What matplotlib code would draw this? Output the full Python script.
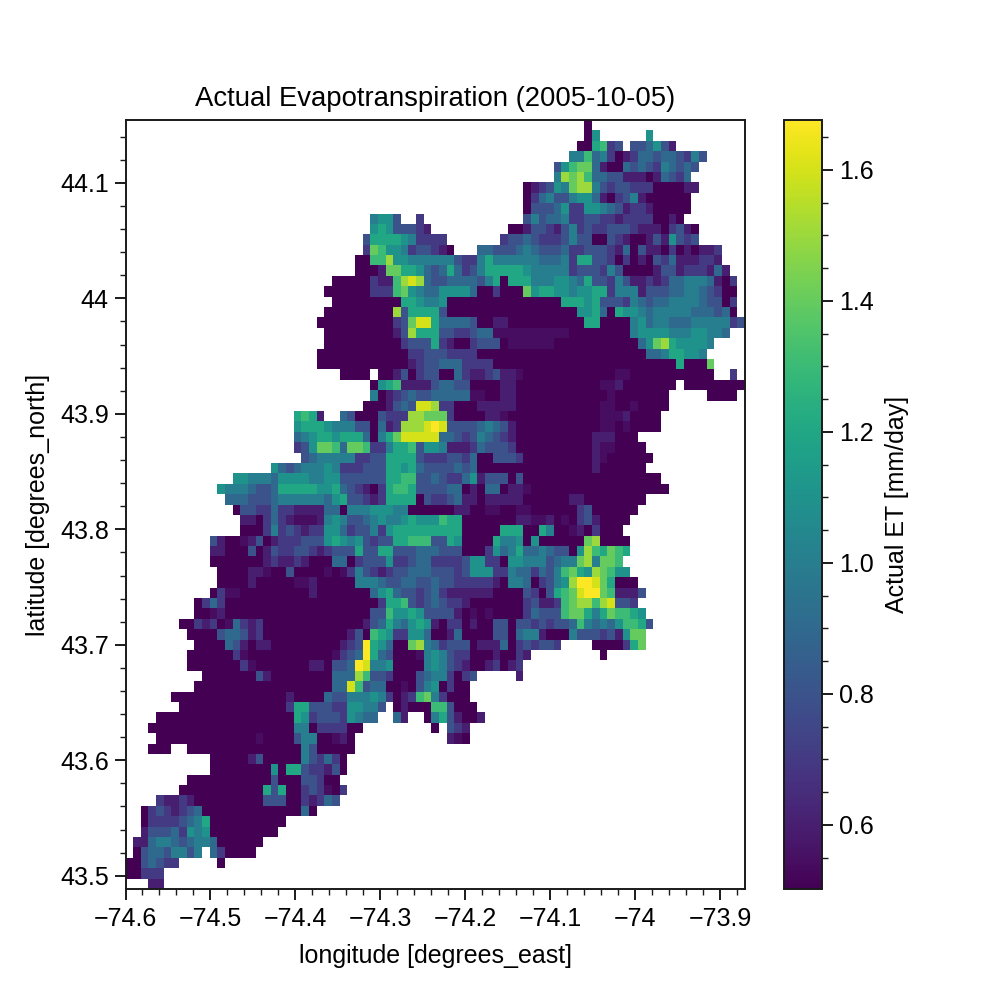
#!/usr/bin/env python3
"""Actual evapotranspiration map for one day, gridded at 0.009 degrees."""
import matplotlib
matplotlib.use('Agg')
import matplotlib.pyplot as plt
import numpy as np

plt.rcParams['font.family'] = ['Liberation Sans', 'DejaVu Sans']
plt.rcParams['axes.linewidth'] = 0.7
plt.rcParams['axes.edgecolor'] = '#1a1a1a'

# ET classes in mm/day, one character per cell; '.' is outside the basin
ET_CLASSES = {'0': 0.50, 'z': 0.54, '1': 0.60, '2': 0.70, '3': 0.80, '4': 0.90, '5': 1.00,
              '6': 1.10, '7': 1.20, '8': 1.30, '9': 1.40, 'a': 1.50, 'b': 1.60, 'c': 1.67}

# first occupied column of each row, north to south
ROW_START = [60, 60, 59, 58, 56, 56, 52, 52, 52, 32,
             32, 31, 31, 30, 30, 27, 26, 27, 26, 25,
             26, 26, 25, 25, 28, 32, 32, 31, 22, 22,
             22, 22, 23, 19, 14, 12, 13, 14, 15, 15,
             11, 11, 11, 12, 12, 11, 9, 9, 7, 8,
             9, 8, 8, 10, 9, 6, 7, 4, 3, 4,
             3, 11, 11, 8, 7, 4, 2, 2, 2, 1,
             1, 0, 0, 3]

ROW_CODES = [
    "0",
    "06......6",
    "007823.334631",
    "558452012443443253",
    "3689941004343254343",
    "5a9a84433111014324",
    "0123659aa53233222000011",
    "0245335664102351000000",
    "0333462266543122100000",
    "5663..2" + "." * 13 + "353445223322122220010",
    "67633321" + "." * 10 + "00" + "13321352322333211102310",
    "37777652222" + "." * 7 + "2334322235" + "3300321001" + "316323",
    "298665233210" + "..." + "44333454333422333" + "214031102010112",
    "0088a" + "66555" + "55532" + "25755" + "55554" + "44527" + "73320" + "20103" + "24111" + "221",
    "00019" + "97764" + "34742" + "35777" + "77655" + "55523" + "33253" + "00001" + "33122" + "2141",
    "00000" + "2118a" + "ba433" + "44443" + "57077" + "75556" + "65473" + "32531" + "12124" + "45554" + "102",
    "000000" + "2228" + "9654" + "4666" + "6400" + "2000" + "9677" + "6656" + "6772" + "5551" + "3334" + "4554" + "3200",
    "0" * 9 + "77655" + "6" + "0" * 15 + "77767" + "33325" + "43445" + "55543" + "302",
    "0" * 9 + "a377773" + "0" * 17 + "66740" + "76654" + "55555" + "44434" + "0",
    "0" * 10 + "239bb7" + "44443" + "00110000000000" + "77" + "0000" + "56455" + "44455" + "55523",
    "0" * 9 + "13a777" + "3322344" + "z" * 10 + "0" * 8 + "5666655566554",
    "0" * 10 + "23337" + "21002333" + "0zzzzzz" + "0" * 11 + "469a766665",
    "0" * 12 + "223332222" + "0" * 22 + "44577665",
    "0" * 12 + "12334442222" + "0" * 24 + "7" + "000" + "9",
    "0000.00130233" + "00421123" + "11z" + "0" * 12 + "zz" + "0" * 11 + ".." + "2",
    "067811113" + "4433" + "0000" + "11" + "0" * 11 + "zz" + "1" + "0" * 7 + "." + "0" * 8,
    "501234334" + "4444" + "zz00" + "11" + "0" * 12 + "z" + "0" * 7 + "." * 5 + "0000",
    "0001343bba" + "22" + "000" + "11111" + "0" * 11 + "zz" + "00" + "z" + "0000",
    "7871..430003222aa99" + "92" + "0000" + "11z" + "0" * 12 + "zzz1" + "0000",
    "67776555330412aaabc" + "b333345431" + "0" * 11 + "zz0z" + "0000",
    "4567767774" + "0579" + "bbbbb" + "4432354321" + "0" * 10 + "111" + "000",
    "2369984998" + "225778366" + "5111243332" + "0" * 10 + "1zz" + "0000",
    "345555522337777322" + "23324003332" + "0" * 9 + "1z" + "0" * 6,
    "643455565" + "222" + "333" + "7767" + "433" + "33434" + "0" * 15 + "1" + "0" * 6,
    "665554" + "66665566" + "333333" + "7788" + "334" + "32246133303" + "0" * 18,
    "65554334" + "77777667" + "432102" + "7887" + "333" + "34401044011z" + "0" * 18,
    "4443334" + "5555554" + "6733212" + "7777032" + "23411011111" + "0" * 6 + "11" + "0" * 8,
    "033224221111440" + "55566655" + "0" * 6 + "11" + "00zz00zz" + "0" * 6 + "23" + "0" * 6,
    "1102421" + "zzz1" + "565334" + "5655" + "67666" + "877" + "0" * 7 + "11zz10z0" + "231" + "0000",
    "00025232122664233526" + "777777" + "777" + "0" * 5 + "777" + "00" + "75" + "00z102" + "000",
    "3100z1301" + "222333" + "67656" + "3233" + "77888" + "3" + "376" + "0000" + "7556" + "06" + "0" * 6 + "9a" + "0000",
    "110003013" + "223321" + "23337" + "3377" + "33344" + "4" + "3330002645744543306a87987",
    "0" * 7 + "12112100044023336223442" + "222366220665553455" + "9a5998",
    "000011z003" + "0000z0z" + "253212" + "33" + "4443" + "33236662254424358976a9866",
    "0000100000zz100000" + "55543344334" + "33222221055402356accb97000",
    "02zz" + "0" * 9 + "1" + "0" * 7 + "467433234" + "2111111" + "0000" + "320" + "3789" + "bcc98" + "1113",
    "0242" + "0" * 20 + "27783234" + "3221" + "0000000" + "23112" + "89aa8ab332",
    "00z1" + "0" * 19 + "338667633" + "3310z0z0000" + "24333" + "89975" + "79887" + "6",
    "00212" + "0z4212" + "0" * 13 + "1347546761" + "0220100330" + "3323233485" + "45468873",
    "0000344312" + "0" * 11 + "130876226640" + "0140000330" + "4551000533" + "3231699",
    "0000431011" + "0" * 9 + "123c764009a54" + "2333011140" + "232332" + "...." + "0000" + "279",
    "0000002z" + "0" * 11 + "z234c743000z56" + "532200010021" + "." * 9 + "0",
    "0" * 7 + "2z" + "0" * 7 + "110" + "334cb556" + "0000" + "565" + "3210012012",
    "0" * 7 + "31" + "0" * 8 + "444a8332" + "00034552023" + "." * 5 + "1",
    "0" * 18 + "44b8344" + "00z0" + "3560200",
    "0" * 15 + "1" + "0000" + "4335556520128952000",
    "0" * 14 + "2773332266553" + "." + "01000" + "88" + "3" + "000",
    "0" * 18 + "76233326544" + ".." + "41" + ".." + "05731001",
    "0" * 19 + "550222200" + "." * 9 + "0" + "." + "321",
    "0" * 13 + "z" + "0000" + "35500z10" + "." * 12 + "1z0",
    "000.." + "0" * 15 + "53" + "00000",
    "000001300000" + "532420",
    "00000000" + "60" + "77" + "322130",
    "0" * 11 + "3000" + "33200",
    "0" * 11 + "737" + "00" + "232z02",
    "21121" + "0" * 9 + "333" + "00" + "21243",
    "02321234" + "0" * 13 + "40",
    "022223457" + "0" * 10,
    "133342656" + "0" * 9,
    "11455434554" + "0" * 6,
    "034435535.420000",
    "0034322" + "....." + "0",
    "00222",
    "11",
]

LON_TICKS = [-74.6, -74.5, -74.4, -74.3, -74.2, -74.1, -74.0, -73.9]
LON_LABELS = ['\u221274.6', '\u221274.5', '\u221274.4', '\u221274.3', '\u221274.2', '\u221274.1', '\u221274', '\u221273.9']
LAT_TICKS = [43.5, 43.6, 43.7, 43.8, 43.9, 44.0, 44.1]
LAT_LABELS = ['43.5', '43.6', '43.7', '43.8', '43.9', '44', '44.1']
CBAR_TICKS = [0.6, 0.8, 1.0, 1.2, 1.4, 1.6]

N_COLS = 81
N_ROWS = len(ROW_CODES)
CELL = 0.009
LON_WEST = -74.6
LAT_SOUTH = 43.4885
VMIN, VMAX = 0.502, 1.676

# unpack the rows into a 2D array
et = np.full((N_ROWS, N_COLS), np.nan)
for r, (start, codes) in enumerate(zip(ROW_START, ROW_CODES)):
    for i, ch in enumerate(codes):
        if ch != '.' and start + i < N_COLS:
            et[r, start + i] = ET_CLASSES[ch]

lon_edges = LON_WEST + CELL * np.arange(N_COLS + 1)
lat_edges = LAT_SOUTH + CELL * np.arange(N_ROWS + 1)[::-1]

fig = plt.figure(figsize=(5, 5), dpi=200)
ax = fig.add_axes([0.1255, 0.111, 0.6195, 0.769])
mesh = ax.pcolormesh(lon_edges, lat_edges, et, cmap='viridis', vmin=VMIN, vmax=VMAX,
                     shading='flat', antialiased=False, rasterized=True)
ax.set_xlim(lon_edges[0], lon_edges[-1])
ax.set_ylim(lat_edges[-1], lat_edges[0])

ax.set_xticks(LON_TICKS)
ax.set_xticklabels(LON_LABELS)
ax.set_yticks(LAT_TICKS)
ax.set_yticklabels(LAT_LABELS)
ax.xaxis.set_minor_locator(matplotlib.ticker.MultipleLocator(0.02))
ax.yaxis.set_minor_locator(matplotlib.ticker.MultipleLocator(0.02))
ax.tick_params(which='major', length=4, width=0.7, labelsize=9, pad=2, color='#1a1a1a')
ax.tick_params(axis='x', which='major', pad=2.3)
ax.tick_params(which='minor', length=2, width=0.5, color='#1a1a1a')
ax.set_xlabel('longitude [degrees_east]', fontsize=9, labelpad=5)
ax.set_ylabel('latitude [degrees_north]', fontsize=9, labelpad=3.7)
ax.set_title('Actual Evapotranspiration (2005-10-05)', fontsize=9.9, pad=5)

cax = fig.add_axes([0.784, 0.111, 0.038, 0.769])
cbar = fig.colorbar(mesh, cax=cax)
cbar.set_ticks(CBAR_TICKS)
cbar.set_ticklabels(['0.6', '0.8', '1.0', '1.2', '1.4', '1.6'])
cbar.ax.yaxis.set_minor_locator(matplotlib.ticker.MultipleLocator(0.05))
cbar.ax.tick_params(which='major', length=4, width=0.7, labelsize=9, pad=2, color='#1a1a1a')
cbar.ax.tick_params(which='minor', length=2, width=0.5, color='#1a1a1a')
cbar.outline.set_linewidth(0.7)
cbar.set_label('Actual ET [mm/day]', fontsize=9, labelpad=4)

plt.savefig('out.png', dpi=200)
plt.close()
